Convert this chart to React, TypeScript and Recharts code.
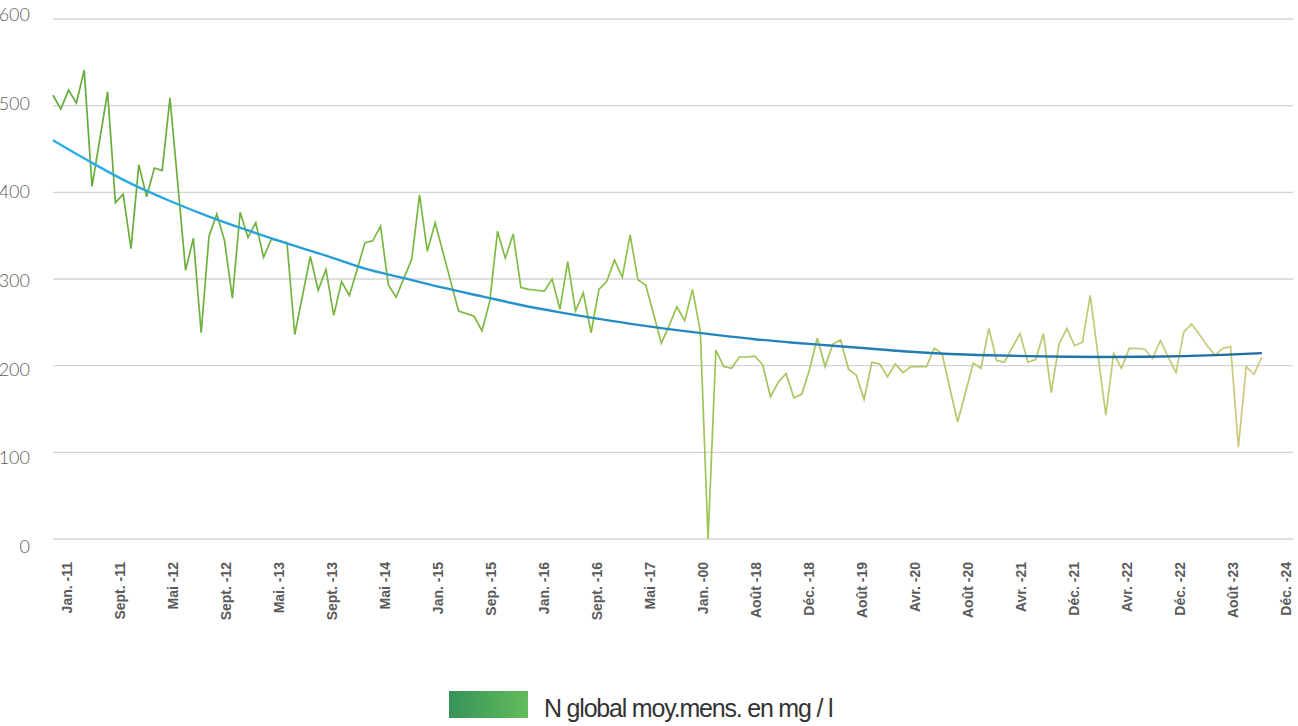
import React from 'react';
import { LineChart, Line, XAxis, YAxis, CartesianGrid, Legend } from 'recharts';

// Monthly values of "N global moy.mens. en mg/l" (index = month position)
const values: number[] = [
  512, 496, 518, 503, 541, 407, 461, 516, 388, 398,
  335, 432, 395, 428, 425, 509, 410, 310, 347, 238,
  349, 375, 344, 278, 377, 348, 365, 325, 346, 344,
  342, 236, 281, 326, 287, 311, 258, 297, 281, 311,
  342, 344, 361, 293, 279, 301, 323, 397, 332, 365,
  331, 297, 263, 260, 257, 240, 274, 355, 324, 352,
  290, 288, 287, 286, 300, 265, 320, 263, 284, 238,
  288, 297, 322, 302, 351, 299, 293, 260, 226, 246,
  268, 252, 288, 240, 0, 218, 199, 197, 210, 210,
  211, 201, 164, 181, 191, 163, 167, 195, 232, 199,
  225, 230, 196, 189, 161, 204, 202, 187, 202, 192,
  199, 199, 199, 220, 214, 174, 135, 169, 203, 197,
  243, 206, 204, 221, 237, 204, 207, 237, 169, 225,
  243, 223, 227, 281, 212, 143, 214, 197, 220, 220,
  219, 208, 229, 210, 192, 239, 248, 236, 223, 212,
  220, 222, 106, 199, 190, 210,
];

// Trend curve read at a few positions
const trendIndex: number[] = [0, 5, 10, 15, 20, 25, 30, 35, 40, 45, 50, 55, 60, 65, 70, 75, 80, 85, 90, 95, 100, 105, 110, 115, 120, 125, 130, 135, 140, 145, 150, 155];
const trendValues: number[] = [460, 434, 410, 390, 372, 356, 341, 327, 312, 301, 290, 280, 270, 261.5, 254, 247, 241, 235.5, 230.5, 226.5, 223, 219.5, 216, 213.5, 212, 211, 210.3, 210, 210.3, 211, 212.5, 214.5];

const xTickLabels: string[] = [
  'Jan. -11', 'Sept. -11', 'Mai -12', 'Sept. -12', 'Mai. -13', 'Sept. -13', 'Mai -14', 'Jan. -15',
  'Sep. -15', 'Jan. -16', 'Sept. -16', 'Mai -17', 'Jan. -00', 'Août -18', 'Déc. -18', 'Août -19',
  'Avr. -20', 'Août -20', 'Avr. -21', 'Déc. -21', 'Avr. -22', 'Déc. -22', 'Août -23', 'Déc. -24',
];

const yTicks: number[] = [0, 100, 200, 300, 400, 500, 600];
const seriesName = 'N global moy.mens. en mg / l';

// layout constants for label placement along the month axis
const TICK_START = 1.76;
const TICK_STEP = 6.8;
const X_MAX = 159;

const data = values.map((v, i) => {
  const t = trendIndex.indexOf(i);
  return { i, value: v, trend: t >= 0 ? trendValues[t] : null };
});

const xTicks = xTickLabels.map((_, k) => TICK_START + k * TICK_STEP);

const XTick = (props: any) => {
  const { x, y, index } = props;
  return (
    <text
      x={x}
      y={y}
      dy="0.36em"
      transform={`rotate(-90 ${x} ${y})`}
      textAnchor="end"
      fontFamily="'Liberation Sans', Arial, sans-serif"
      fontWeight={700}
      fontSize={14}
      fill="#5a5a5a"
    >
      {xTickLabels[index]}
    </text>
  );
};

const YTick = (props: any) => {
  const { x, y, payload } = props;
  const v = payload.value as number;
  return (
    <text
      x={x}
      y={y + 7 - 0.02 * v}
      textAnchor="end"
      dominantBaseline="central"
      fontFamily="Lato, 'Open Sans', sans-serif"
      fontWeight={300}
      fontSize={18}
      fill="#5c5c5c"
    >
      {v}
    </text>
  );
};

const LegendContent = () => (
  <svg width={1298} height={46} style={{ display: 'block' }}>
    <defs>
      <linearGradient id="legendGrad" x1="0" y1="0" x2="1" y2="0">
        <stop offset="0%" stopColor="#369359" />
        <stop offset="100%" stopColor="#63bc5b" />
      </linearGradient>
    </defs>
    <rect x={449} y={11} width={79} height={27} fill="url(#legendGrad)" />
    <text
      x={544}
      y={37}
      fontFamily="'Liberation Sans', Arial, sans-serif"
      fontSize={25}
      letterSpacing={-1.2}
      fill="#333"
    >
      {seriesName}
    </text>
  </svg>
);

export default function App() {
  return (
    <div style={{ position: 'absolute', left: 0, top: 0, width: 1298, height: 726, background: '#fff' }}>
      <LineChart width={1298} height={726} data={data} margin={{ top: 19, right: 5, bottom: 0, left: 0 }}>
        <defs>
          <linearGradient id="dataGrad" x1="0" y1="0" x2="1" y2="0">
            <stop offset="0%" stopColor="#62ab3c" />
            <stop offset="45%" stopColor="#86be44" />
            <stop offset="55%" stopColor="#9fc457" />
            <stop offset="78%" stopColor="#b9c86c" />
            <stop offset="100%" stopColor="#cbc97e" />
          </linearGradient>
          <linearGradient id="trendGrad" x1="0" y1="0" x2="1" y2="0">
            <stop offset="0%" stopColor="#2aafe6" />
            <stop offset="50%" stopColor="#2589c1" />
            <stop offset="100%" stopColor="#1e6a9f" />
          </linearGradient>
        </defs>
        <CartesianGrid vertical={false} stroke="#d4d4d4" strokeWidth={1.3} />
        <XAxis
          dataKey="i"
          type="number"
          domain={[0, X_MAX]}
          ticks={xTicks}
          interval={0}
          allowDecimals
          axisLine={false}
          tickLine={false}
          tickSize={0}
          tickMargin={23}
          height={141}
          tick={<XTick />}
        />
        <YAxis
          domain={[0, 600]}
          ticks={yTicks}
          interval={0}
          axisLine={false}
          tickLine={false}
          tickSize={0}
          tickMargin={23}
          width={53}
          tick={<YTick />}
        />
        <Legend verticalAlign="bottom" align="left" content={<LegendContent />} wrapperStyle={{ left: 0, width: 1298, height: 46 }} />
        <Line
          type="linear"
          dataKey="value"
          name={seriesName}
          stroke="url(#dataGrad)"
          strokeWidth={1.7}
          dot={false}
          isAnimationActive={false}
        />
        <Line
          type="monotone"
          dataKey="trend"
          stroke="url(#trendGrad)"
          strokeWidth={2.4}
          dot={false}
          connectNulls
          legendType="none"
          isAnimationActive={false}
        />
      </LineChart>
    </div>
  );
}
